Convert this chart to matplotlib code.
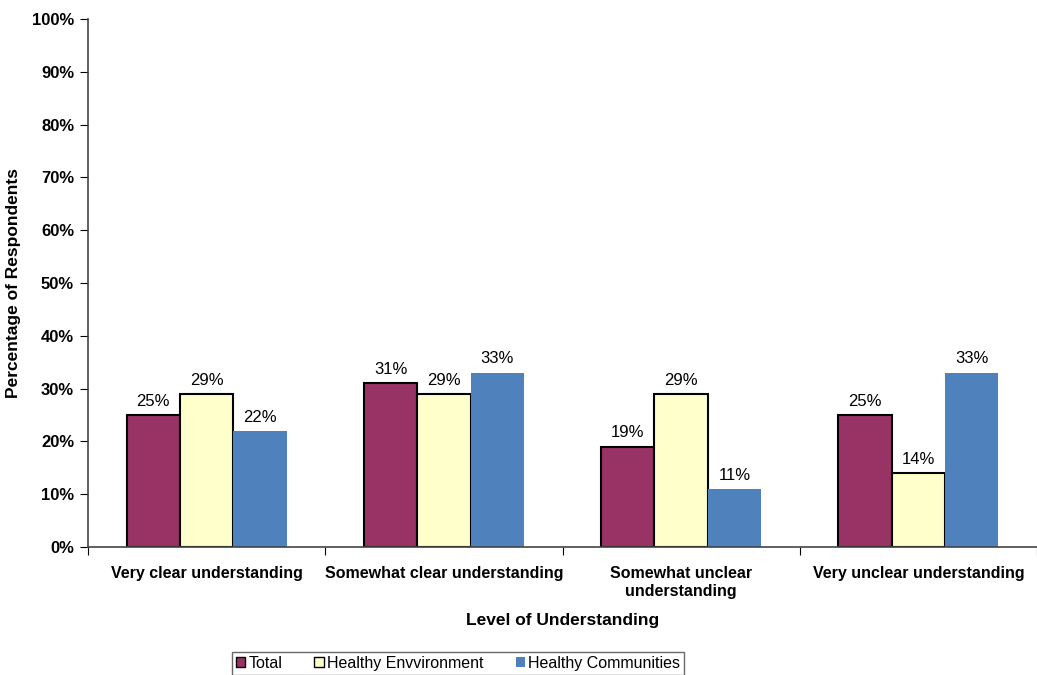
import numpy as np
import matplotlib
matplotlib.use("Agg")
import matplotlib.pyplot as plt
from matplotlib.patches import Patch

# Survey results by level of understanding
categories = ["Very clear understanding", "Somewhat clear understanding",
              "Somewhat unclear\nunderstanding", "Very unclear understanding"]
total = [25, 31, 19, 25]
healthy_env = [29, 29, 29, 14]
healthy_comm = [22, 33, 11, 33]
series_names = ["Total", "Healthy Envvironment", "Healthy Communities"]


def main():
    plt.rcParams["font.family"] = ["Liberation Sans", "DejaVu Sans"]

    fig = plt.figure(figsize=(10.37, 6.75), dpi=100)
    ax = fig.add_axes([0.0849, 0.1896, 0.9151, 0.7823])

    x = np.arange(len(categories))
    w = 0.225
    colors = ["#993366", "#FFFFCC", "#4F81BD"]
    edges = ["black", "black", "none"]
    series = [total, healthy_env, healthy_comm]

    for i, (vals, c, ec) in enumerate(zip(series, colors, edges)):
        bars = ax.bar(x + (i - 1) * w, vals, w, color=c, edgecolor=ec,
                      linewidth=1.5 if ec != "none" else 0)
        for b, v in zip(bars, vals):
            ax.text(b.get_x() + b.get_width() / 2, v + 1.2, f"{v}%",
                    ha="center", va="bottom", fontsize=12)

    ax.set_xlim(-0.5, len(categories) - 0.5)
    ax.set_ylim(0, 100)
    ax.set_yticks(range(0, 101, 10))
    ax.set_yticklabels([f"{t}%" for t in range(0, 101, 10)],
                       fontsize=12, fontweight="bold")
    ax.set_xticks(np.arange(len(categories) + 1) - 0.5, minor=False)
    ax.set_xticklabels([])
    ax.set_xticks(x, minor=True)
    ax.set_xticklabels(categories, minor=True, fontsize=11.5, fontweight="bold")
    ax.tick_params(axis="x", which="minor", length=0, pad=14)
    ax.tick_params(axis="x", which="major", length=6, direction="out")
    ax.tick_params(axis="y", length=6, direction="out", pad=4)

    for side in ["top", "right"]:
        ax.spines[side].set_visible(False)
    for side in ["left", "bottom"]:
        ax.spines[side].set_color("#444444")
        ax.spines[side].set_linewidth(1.2)

    ax.set_xlabel("Level of Understanding", fontsize=12.5, fontweight="bold",
                  labelpad=10)
    ax.set_ylabel("Percentage of Respondents", fontsize=12.5, fontweight="bold",
                  labelpad=8)

    handles = [Patch(facecolor=c, edgecolor="black", linewidth=1.0)
               for c in colors[:2]]
    handles.append(Patch(facecolor=colors[2], edgecolor="none"))
    leg = fig.legend(handles, series_names, loc="upper center",
                     bbox_to_anchor=(0.4417, 0.034), ncol=3, fontsize=11.5,
                     frameon=True, fancybox=False, handlelength=0.6,
                     handleheight=0.6, handletextpad=0.2, columnspacing=2.0,
                     borderpad=0.25, borderaxespad=0)
    leg.get_frame().set_edgecolor("#444444")
    leg.get_frame().set_linewidth(1.0)

    fig.savefig("out.png", dpi=100)


if __name__ == "__main__":
    main()
